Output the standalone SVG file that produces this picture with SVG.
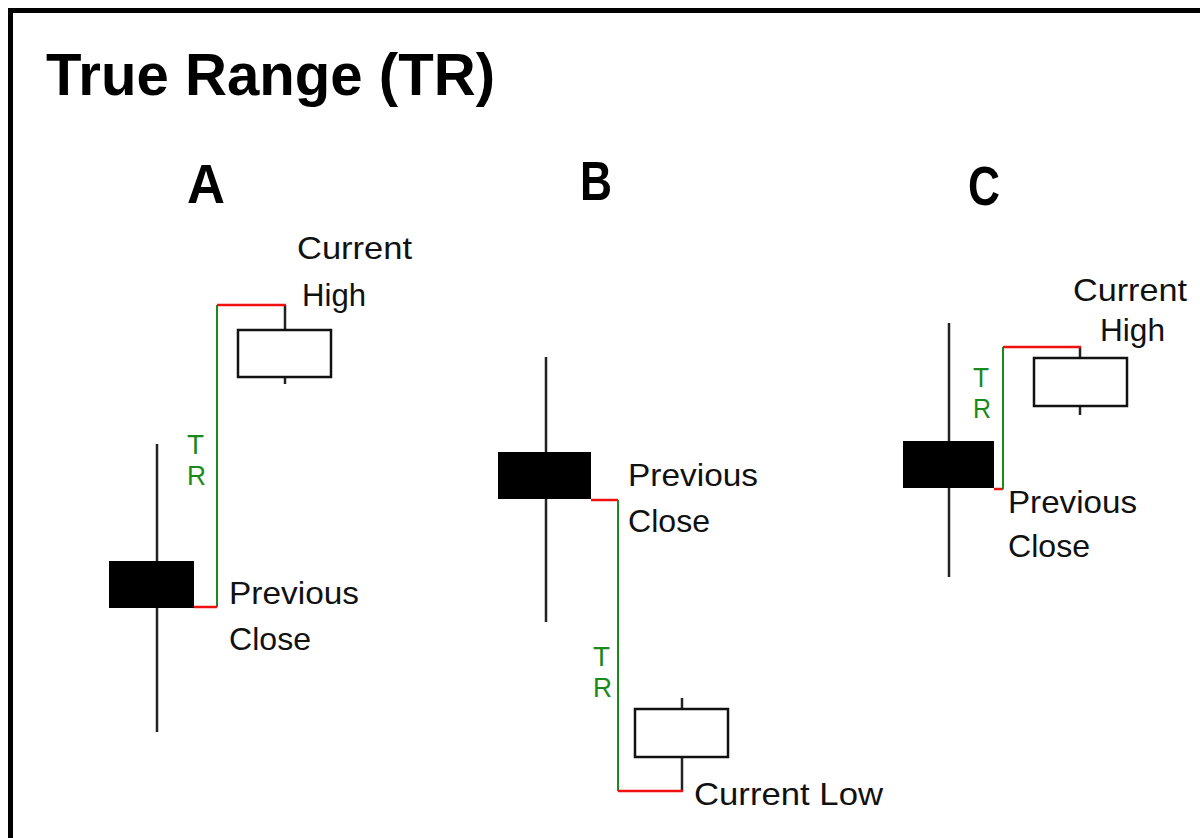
<svg xmlns="http://www.w3.org/2000/svg" width="1200" height="838" viewBox="0 0 1200 838">
<style>
.t{font-family:"Liberation Sans",Arial,sans-serif;fill:#111;font-size:32px}
.h{font-family:"Liberation Sans",Arial,sans-serif;font-weight:bold;fill:#000}
.tr{font-family:"Liberation Sans",Arial,sans-serif;fill:#1a8a1a;font-size:27px}
.wick{stroke:#222;stroke-width:2.5;fill:none}
.body{fill:#000;stroke:none}
.box{fill:#fff;stroke:#111;stroke-width:2.5}
.red{stroke:#f01010;stroke-width:2.5;fill:none}
.grn{stroke:#1a8a1a;stroke-width:2;fill:none}
</style>
<rect width="1200" height="838" fill="#fff"/>
<path d="M10.5,838 V10.5 H1200" fill="none" stroke="#000" stroke-width="5"/>
<text class="h" x="46" y="95" font-size="60" textLength="449" lengthAdjust="spacingAndGlyphs">True Range (TR)</text>

<g id="panelA">
<text class="h" x="187" y="203" font-size="56" textLength="38" lengthAdjust="spacingAndGlyphs">A</text>
<g id="A-prev">
<line class="wick" x1="157" y1="444" x2="157" y2="732"/>
<rect class="body" x="109" y="561" width="85" height="47"/>
</g>
<g id="A-curr">
<line class="wick" x1="285" y1="305" x2="285" y2="330"/>
<line class="wick" x1="285" y1="377" x2="285" y2="384"/>
<rect class="box" x="238" y="330" width="93" height="47"/>
</g>
<text class="t" x="297" y="259" textLength="115" lengthAdjust="spacingAndGlyphs">Current</text>
<text class="t" x="302" y="306" textLength="64" lengthAdjust="spacingAndGlyphs">High</text>
<text class="tr" x="187" y="454" textLength="17" lengthAdjust="spacingAndGlyphs">T</text>
<text class="tr" x="187" y="485" textLength="19" lengthAdjust="spacingAndGlyphs">R</text>
<text class="t" x="229" y="604" textLength="130" lengthAdjust="spacingAndGlyphs">Previous</text>
<text class="t" x="229" y="650" textLength="82" lengthAdjust="spacingAndGlyphs">Close</text>
</g>

<g id="panelB">
<text class="h" x="580" y="200" font-size="56" textLength="32" lengthAdjust="spacingAndGlyphs">B</text>
<g id="B-prev">
<line class="wick" x1="546" y1="357" x2="546" y2="622"/>
<rect class="body" x="498" y="452" width="93" height="47"/>
</g>
<g id="B-curr">
<line class="wick" x1="682" y1="698" x2="682" y2="709"/>
<line class="wick" x1="682" y1="757" x2="682" y2="791"/>
<rect class="box" x="635" y="709" width="93" height="48"/>
</g>
<text class="t" x="628" y="486" textLength="130" lengthAdjust="spacingAndGlyphs">Previous</text>
<text class="t" x="628" y="532" textLength="82" lengthAdjust="spacingAndGlyphs">Close</text>
<text class="tr" x="593" y="666" textLength="17" lengthAdjust="spacingAndGlyphs">T</text>
<text class="tr" x="593" y="697" textLength="19" lengthAdjust="spacingAndGlyphs">R</text>
<text class="t" x="694" y="805" textLength="189" lengthAdjust="spacingAndGlyphs">Current Low</text>
</g>

<g id="panelC">
<text class="h" x="968" y="205" font-size="56" textLength="32" lengthAdjust="spacingAndGlyphs">C</text>
<g id="C-prev">
<line class="wick" x1="949" y1="323" x2="949" y2="577"/>
<rect class="body" x="903" y="441" width="91" height="47"/>
</g>
<g id="C-curr">
<line class="wick" x1="1080" y1="347" x2="1080" y2="358"/>
<line class="wick" x1="1080" y1="406" x2="1080" y2="415"/>
<rect class="box" x="1034" y="358" width="93" height="48"/>
</g>
<text class="t" x="1073" y="301" textLength="114" lengthAdjust="spacingAndGlyphs">Current</text>
<text class="t" x="1100" y="341" textLength="65" lengthAdjust="spacingAndGlyphs">High</text>
<text class="tr" x="973" y="387" textLength="16" lengthAdjust="spacingAndGlyphs">T</text>
<text class="tr" x="973" y="418" textLength="18" lengthAdjust="spacingAndGlyphs">R</text>
<text class="t" x="1008" y="513" textLength="129" lengthAdjust="spacingAndGlyphs">Previous</text>
<text class="t" x="1008" y="557" textLength="82" lengthAdjust="spacingAndGlyphs">Close</text>
</g>

<g id="connectors">
<path class="grn" d="M217,607 V305"/>
<path class="red" d="M194,607 H217"/>
<path class="red" d="M217,305 H286"/>
<path class="red" d="M591,500 H618"/>
<path class="grn" d="M618,500 V791"/>
<path class="red" d="M618,791 H683"/>
<path class="red" d="M994,489 H1003"/>
<path class="grn" d="M1003,489 V347"/>
<path class="red" d="M1003,347 H1081"/>
</g>
</svg>
